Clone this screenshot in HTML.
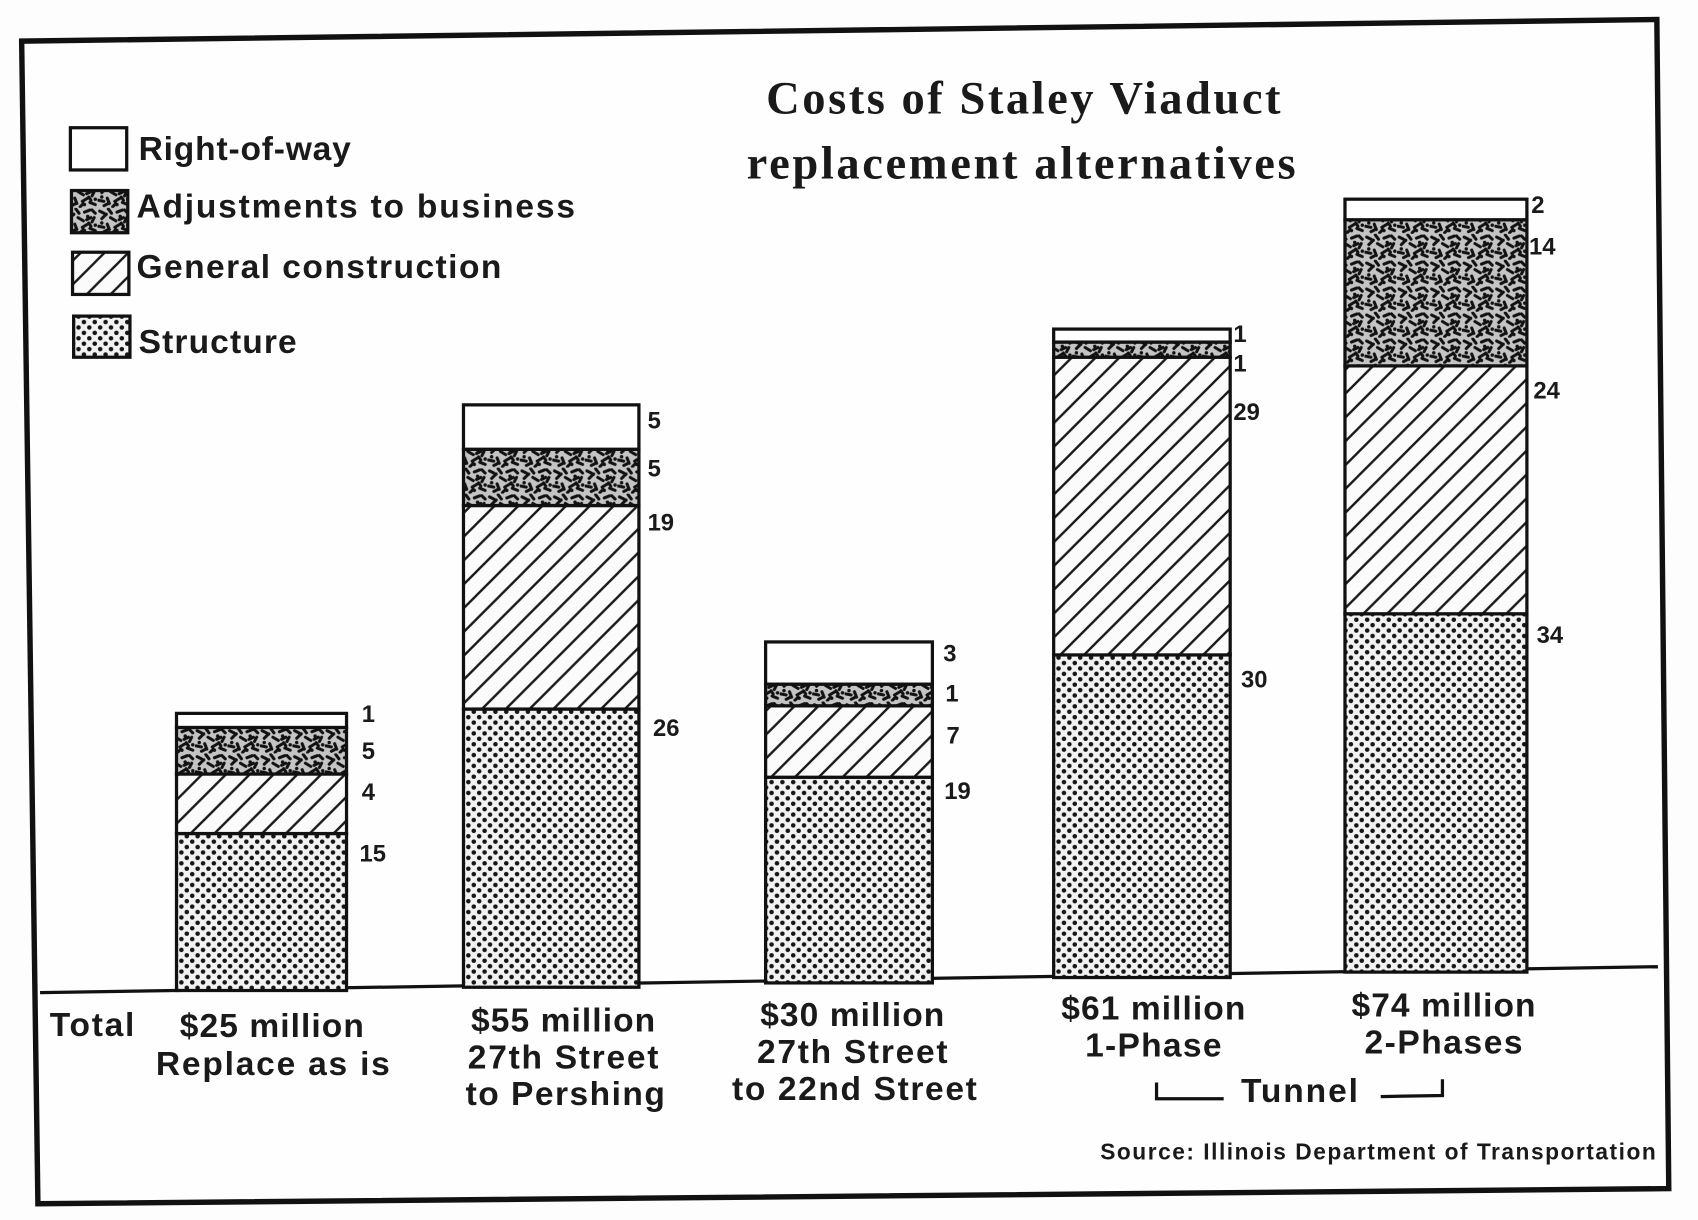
<!DOCTYPE html>
<html><head><meta charset="utf-8"><style>
html,body{margin:0;padding:0;background:#fff;}
svg{display:block;}
text{font-family:"Liberation Sans",sans-serif;font-weight:bold;fill:#1a1a1a;}
.t{font-family:"Liberation Serif",serif;font-size:43px;}
.l{font-size:31px;}
.c{font-size:31px;text-anchor:middle;}
.v{font-size:22px;}
</style></head><body>
<svg width="1698" height="1220" viewBox="0 0 1568 1127" preserveAspectRatio="none" xmlns="http://www.w3.org/2000/svg">
<defs>
<pattern id="hatch" width="22" height="22" patternUnits="userSpaceOnUse">
<rect width="22" height="22" fill="#fbfbfb"/>
<path d="M-5,27 L27,-5 M-5,5 L5,-5 M17,27 L27,17" stroke="#1a1a1a" stroke-width="2.2"/>
</pattern>
<pattern id="dots" width="10" height="10" patternUnits="userSpaceOnUse">
<rect width="10" height="10" fill="#f2f2f2"/>
<circle cx="2.5" cy="2.5" r="2.1" fill="#151515"/>
<circle cx="7.5" cy="7.5" r="2.1" fill="#151515"/>
</pattern>
<pattern id="noise" width="30" height="24" patternUnits="userSpaceOnUse">
<rect width="30" height="24" fill="#c4c4c4"/>
<path d="M2,3 l4,2 M10,1 l3,4 M18,4 l5,-2 M25,2 l3,3 M4,10 l3,-3 M12,9 l5,3 M20,11 l4,-2 M27,9 l-2,4 M1,17 l5,1 M9,15 l2,5 M16,18 l5,-3 M23,19 l5,2 M6,22 l4,-2 M14,23 l3,-3 M22,14 l2,3" stroke="#111" stroke-width="2.8" stroke-linecap="round"/>
<circle cx="8" cy="6" r="1.6" fill="#111"/><circle cx="21" cy="8" r="1.6" fill="#111"/><circle cx="4" cy="14" r="1.6" fill="#111"/><circle cx="18" cy="21" r="1.6" fill="#111"/><circle cx="28" cy="16" r="1.6" fill="#111"/>
</pattern>
</defs>
<rect width="1568" height="1127" fill="#fdfdfd"/>
<polygon points="20,38 1530,18 1541,1098 35,1112" fill="#fefefe" stroke="#111" stroke-width="5"/>
<line x1="37" y1="917" x2="1531" y2="893" stroke="#111" stroke-width="3"/>

<rect x="65" y="118" width="52" height="39" fill="#fff" stroke="#111" stroke-width="3"/>
<rect x="66" y="176" width="52" height="39" fill="url(#noise)" stroke="#111" stroke-width="3"/>
<rect x="67" y="233" width="52" height="39" fill="url(#hatch)" stroke="#111" stroke-width="3"/>
<rect x="68" y="292" width="52" height="38" fill="url(#dots)" stroke="#111" stroke-width="3"/>
<text class="l" x="128" y="148" textLength="196">Right-of-way</text>
<text class="l" x="126" y="201" textLength="405">Adjustments  to  business</text>
<text class="l" x="126" y="257" textLength="337">General  construction</text>
<text class="l" x="128" y="326" textLength="146">Structure</text>

<text class="t" x="945" y="105" text-anchor="middle" textLength="475">Costs of Staley Viaduct</text>
<text class="t" x="943" y="165" text-anchor="middle" textLength="507">replacement alternatives</text>

<g stroke="#111" stroke-width="3">
<rect x="163" y="770" width="157" height="145" fill="url(#dots)"/>
<rect x="163" y="715" width="157" height="55" fill="url(#hatch)"/>
<rect x="163" y="672" width="157" height="43" fill="url(#noise)"/>
<rect x="163" y="659" width="157" height="13" fill="#fff"/>
<rect x="428" y="655" width="162" height="257" fill="url(#dots)"/>
<rect x="428" y="467" width="162" height="188" fill="url(#hatch)"/>
<rect x="428" y="415" width="162" height="52" fill="url(#noise)"/>
<rect x="428" y="374" width="162" height="41" fill="#fff"/>
<rect x="707" y="718" width="154" height="190" fill="url(#dots)"/>
<rect x="707" y="652" width="154" height="66" fill="url(#hatch)"/>
<rect x="707" y="632" width="154" height="20" fill="url(#noise)"/>
<rect x="707" y="593" width="154" height="39" fill="#fff"/>
<rect x="973" y="605" width="163" height="298" fill="url(#dots)"/>
<rect x="973" y="330" width="163" height="275" fill="url(#hatch)"/>
<rect x="973" y="316" width="163" height="14" fill="url(#noise)"/>
<rect x="973" y="304" width="163" height="12" fill="#fff"/>
<rect x="1242" y="567" width="168" height="331" fill="url(#dots)"/>
<rect x="1242" y="338" width="168" height="229" fill="url(#hatch)"/>
<rect x="1242" y="203" width="168" height="135" fill="url(#noise)"/>
<rect x="1242" y="184" width="168" height="19" fill="#fff"/>
</g>

<text class="v" x="334" y="667">1</text><text class="v" x="334" y="701">5</text><text class="v" x="334" y="739">4</text><text class="v" x="332" y="796">15</text>
<text class="v" x="598" y="396">5</text><text class="v" x="598" y="440">5</text><text class="v" x="598" y="490">19</text><text class="v" x="603" y="680">26</text>
<text class="v" x="871" y="611">3</text><text class="v" x="873" y="648">1</text><text class="v" x="874" y="687">7</text><text class="v" x="872" y="738">19</text>
<text class="v" x="1139" y="316">1</text><text class="v" x="1139" y="343">1</text><text class="v" x="1139" y="388">29</text><text class="v" x="1146" y="635">30</text>
<text class="v" x="1414" y="197">2</text><text class="v" x="1412" y="235">14</text><text class="v" x="1416" y="368">24</text><text class="v" x="1419" y="594">34</text>

<text class="c" x="85" y="957" textLength="78">Total</text>
<text class="c" x="251" y="958" textLength="170">$25 million</text>
<text class="c" x="252" y="993" textLength="216">Replace as is</text>
<text class="c" x="520" y="953" textLength="170">$55 million</text>
<text class="c" x="520" y="987" textLength="176">27th Street</text>
<text class="c" x="522" y="1021" textLength="184">to Pershing</text>
<text class="c" x="787" y="948" textLength="170">$30 million</text>
<text class="c" x="787" y="982" textLength="176">27th Street</text>
<text class="c" x="789" y="1016" textLength="226">to 22nd Street</text>
<text class="c" x="1065" y="942" textLength="170">$61 million</text>
<text class="c" x="1065" y="976" textLength="126">1-Phase</text>
<text class="c" x="1333" y="939" textLength="170">$74 million</text>
<text class="c" x="1333" y="973" textLength="146">2-Phases</text>
<text class="c" x="1200" y="1018" textLength="108">Tunnel</text>
<path d="M1068,1000 L1068,1015 L1130,1015" fill="none" stroke="#111" stroke-width="3"/>
<path d="M1275,1013 L1332,1012 L1332,997" fill="none" stroke="#111" stroke-width="3"/>
<text x="1529" y="1071" text-anchor="end" font-size="21" textLength="513">Source: Illinois Department of Transportation</text>
</svg>
</body></html>
